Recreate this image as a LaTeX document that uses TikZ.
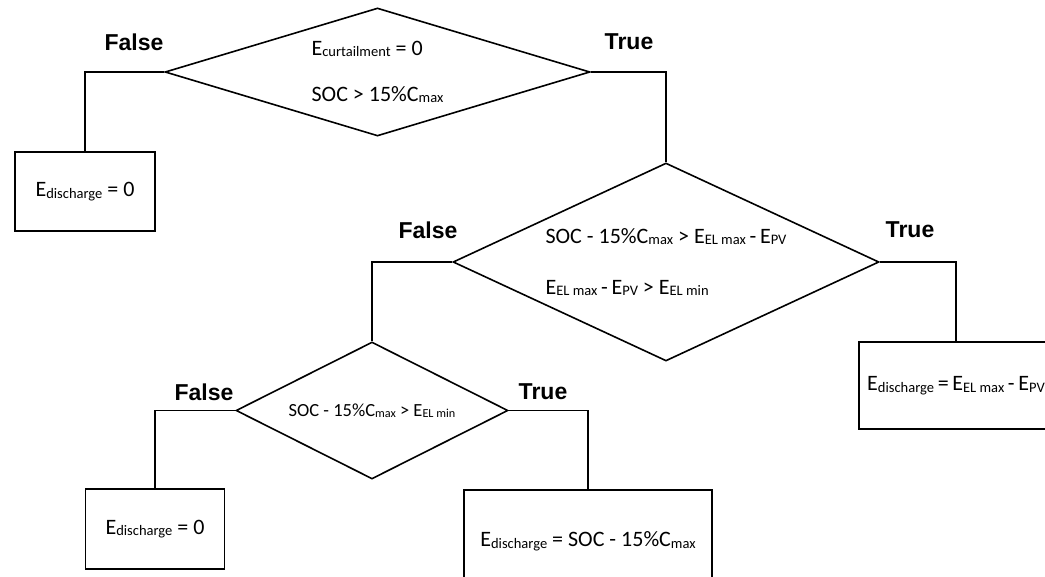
\documentclass[tikz,border=0pt]{standalone}
\usepackage{fontspec}
\setmainfont{Carlito}
\newfontfamily\labelfont{Liberation Sans}
\usetikzlibrary{shapes.geometric}

% lowered index, about two thirds of the running size
\makeatletter
\newcommand\lowsub[1]{\raisebox{-1.5pt}{\fontsize{\fpeval{0.66*\f@size}}{0}\selectfont #1}}
\makeatother

\begin{document}
\begin{tikzpicture}[x=1pt, y=-1pt, line width=1.6pt,
    test/.style={draw, diamond, inner sep=0pt, align=left,
      font=\fontsize{22}{26}\selectfont},
    result/.style={draw, rectangle, inner sep=0pt,
      font=\fontsize{22}{26}\selectfont},
    branch/.style={font=\labelfont\bfseries\fontsize{23}{23}\selectfont}]

    \useasboundingbox (0,0) rectangle (1045,577);

    % --- Decisions ---
    \node[test, aspect=3.32, minimum width=425pt, minimum height=128pt] (d1) at (377.5,72)
      {E\lowsub{curtailment} = 0\\[20pt]
       SOC > 15\%C\lowsub{max}};
    \node[test, aspect=2.15, minimum width=426pt, minimum height=198pt] (d2) at (666,262)
      {SOC - 15\%C\lowsub{max} > E\lowsub{EL max}\,-\,E\lowsub{PV}\\[25pt]
       E\lowsub{EL max}\,-\,E\lowsub{PV} > E\lowsub{EL min}};
    \node[test, aspect=1.99, minimum width=272pt, minimum height=137pt,
      font=\fontsize{18.5}{22}\selectfont] (d3) at (372,410.5)
      {SOC - 15\%C\lowsub{max} > E\lowsub{EL min}};

    % --- Results ---
    \node[result, minimum width=140pt, minimum height=79pt] (r1) at (85,191.5)
      {E\lowsub{discharge} = 0};
    \node[result, minimum width=194pt, minimum height=87pt] (r2) at (956,385.5)
      {E\lowsub{discharge}\,=\,E\lowsub{EL max}\,-\,E\lowsub{PV}};
    \node[result, minimum width=139pt, minimum height=80pt] (r3) at (155,529)
      {E\lowsub{discharge} = 0};
    \node[result, minimum width=248pt, minimum height=102pt] (r4) at (588,541)
      {E\lowsub{discharge} = SOC - 15\%C\lowsub{max}};

    % Branch lines
    \draw (d1.west) -| (r1.north);
    \draw (d1.east) -| (d2.north);
    \draw (d2.west) -| (d3.north);
    \draw (d2.east) -| (r2.north);
    \draw (d3.west) -| (r3.north);
    \draw (d3.east) -| (r4.north);

    % True / False labels
    \node[branch] (f1) at (134,42) {False};
    \node[branch] (t1) at (629,42) {True};
    \node[branch] (f2) at (428,230) {False};
    \node[branch] (t2) at (910,230) {True};
    \node[branch] (f3) at (204,392) {False};
    \node[branch] (t3) at (543,392) {True};

\end{tikzpicture}
\end{document}
